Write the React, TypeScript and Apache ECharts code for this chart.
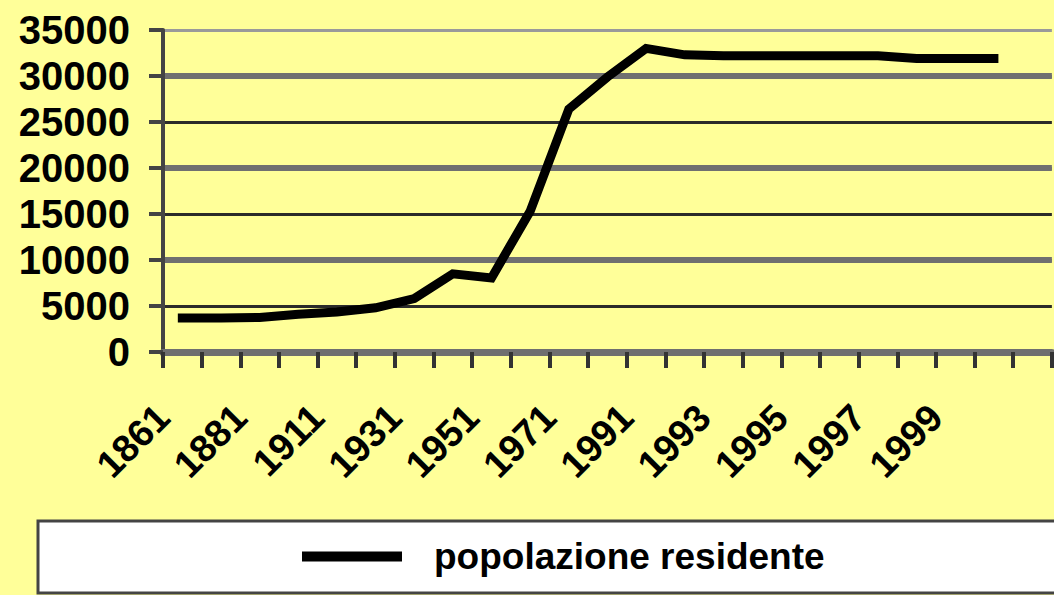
import React, { useEffect, useRef } from "react";
import * as echarts from "echarts";

// categories (census years, then yearly), last slot is an empty category on the axis
const years = [
  "1861", "1871", "1881", "1901", "1911", "1921", "1931", "1936", "1951", "1961",
  "1971", "1981", "1991", "1992", "1993", "1994", "1995", "1996", "1997", "1998",
  "1999", "2000", "",
];

// popolazione residente
const population = [
  3700, 3700, 3750, 4100, 4350, 4800, 5800, 8500, 8050, 15300,
  26400, 29900, 33000, 32300, 32200, 32200, 32200, 32200, 32200, 31900,
  31900, 31900, null,
];

// tick labels shown under the axis (every other category)
const tickLabels = ["1861", "1881", "1911", "1931", "1951", "1971", "1991", "1993", "1995", "1997", "1999"];

const yTicks = { min: 0, max: 35000, interval: 5000 };

const seriesName = "popolazione residente";

const FONT = "'Liberation Sans', Arial, sans-serif";

export default function App() {
  const ref = useRef<HTMLDivElement>(null);

  useEffect(() => {
    document.body.style.margin = "0";
    if (!ref.current) return;
    const chart = echarts.init(ref.current, null, { renderer: "svg" });

    // label axis: one slot per tick boundary (categories + 1)
    const boundaryLabels: string[] = [];
    for (let i = 0; i <= years.length; i++) {
      boundaryLabels.push(i % 2 === 0 && tickLabels[i / 2] ? tickLabels[i / 2] : "");
    }

    const option: any = {
      animation: false,
      backgroundColor: "#FFFF99",
      grid: { left: 163, top: 30, width: 898, height: 322, containLabel: false },
      xAxis: [
        {
          type: "category",
          data: years,
          boundaryGap: true,
          position: "bottom",
          axisLine: { show: true, lineStyle: { color: "#6f6f6f", width: 7 } },
          axisTick: { show: true, interval: 0, length: 16, lineStyle: { color: "#333", width: 4 } },
          axisLabel: { show: false },
          splitLine: { show: false },
        },
        {
          type: "category",
          data: boundaryLabels,
          boundaryGap: false,
          position: "bottom",
          axisLine: { show: false },
          axisTick: { show: false },
          splitLine: { show: false },
          axisLabel: {
            show: true,
            interval: 0,
            rotate: 45,
            margin: 59,
            color: "#000",
            fontSize: 38,
            fontWeight: "bold",
            fontFamily: FONT,
          },
        },
      ],
      yAxis: [
        {
          type: "value",
          min: yTicks.min,
          max: yTicks.max,
          interval: yTicks.interval,
          position: "left",
          axisLine: { show: true, lineStyle: { color: "#444", width: 4 } },
          axisTick: { show: true, length: 14, lineStyle: { color: "#444", width: 4 } },
          axisLabel: {
            margin: 33,
            color: "#000",
            fontSize: 40,
            fontWeight: "bold",
            fontFamily: FONT,
            formatter: (v: number) => String(v),
          },
          splitLine: {
            show: true,
            lineStyle: {
              width: 3,
              color: ["#707070", "#2b2b2b", "#707070", "#2b2b2b", "#707070", "#2b2b2b", "#707070", "#9a9a9a"],
            },
          },
        },
        {
          type: "value",
          min: yTicks.min,
          max: yTicks.max,
          interval: yTicks.interval * 2,
          position: "right",
          axisLine: { show: false },
          axisTick: { show: false },
          axisLabel: { show: false },
          splitLine: {
            show: true,
            lineStyle: {
              width: 6,
              color: ["#707070", "#707070", "#707070", "#707070", "rgba(0,0,0,0)"],
            },
          },
        },
      ],
      legend: {
        left: 38,
        top: 521,
        padding: [17, 240, 18, 264],
        backgroundColor: "#ffffff",
        borderColor: "#444",
        borderWidth: 3,
        borderRadius: 0,
        icon: "rect",
        itemWidth: 100,
        itemHeight: 10,
        itemGap: 0,
        itemStyle: { color: "#000" },
        textStyle: {
          fontSize: 37,
          fontWeight: "bold",
          color: "#000",
          fontFamily: FONT,
          padding: [0, 0, 0, 27],
        },
        data: [seriesName],
      },
      series: [
        {
          name: seriesName,
          type: "line",
          xAxisIndex: 0,
          yAxisIndex: 0,
          data: population,
          symbol: "none",
          connectNulls: false,
          lineStyle: { color: "#000", width: 9, cap: "square", join: "miter" },
          itemStyle: { color: "#000" },
          z: 5,
        },
      ],
    };

    chart.setOption(option);
    return () => chart.dispose();
  }, []);

  return <div ref={ref} style={{ width: 1054, height: 595 }} />;
}
